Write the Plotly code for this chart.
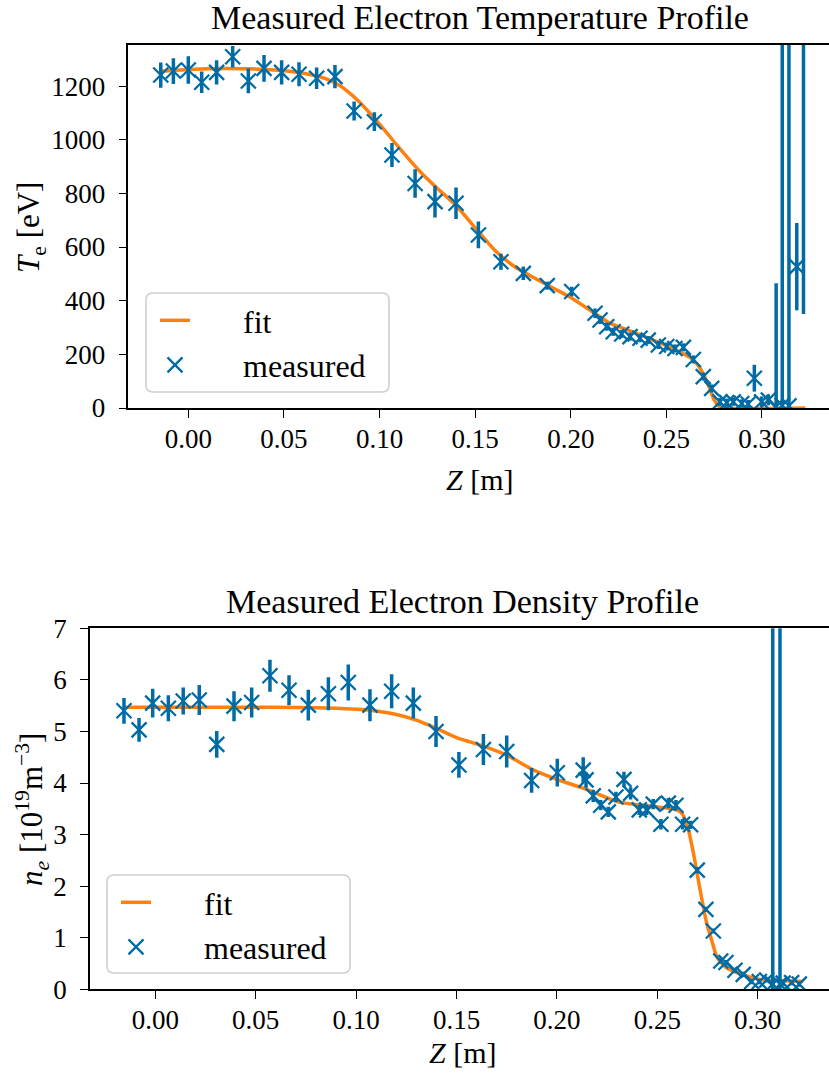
import plotly.graph_objects as go

# ---------------- data: electron temperature ----------------
z_te = [-0.0144, -0.0078, 0.0, 0.007, 0.0148, 0.0232, 0.0314, 0.0396, 0.0488, 0.0579,
        0.0671, 0.0767, 0.0867, 0.0973, 0.1065, 0.1186, 0.129, 0.140, 0.1517, 0.1635,
        0.1752, 0.1877, 0.2005, 0.2127, 0.2153, 0.2188, 0.2222, 0.2266, 0.231, 0.2362,
        0.2405, 0.2458, 0.2502, 0.2545, 0.2589, 0.2641, 0.2693, 0.2737, 0.278, 0.2816,
        0.285, 0.2894, 0.2928, 0.296, 0.2998, 0.3033, 0.3074, 0.3106, 0.3141, 0.3182, 0.3217]
te = [1241, 1256, 1260, 1214, 1251, 1309, 1219, 1266, 1251, 1244,
      1229, 1235, 1107, 1067, 943, 837, 769, 763, 645, 545,
      502, 456, 434, 353, 328, 303, 284, 276, 266, 260,
      253, 235, 229, 222, 226, 181, 117, 73, 23, 20,
      23, 17, 15, 111, 23, 30, 5, 10, 8, 527, 1600]
te_err = [47, 48, 51, 40, 45, 40, 46, 50, 45, 45,
          40, 43, 35, 35, 45, 53, 59, 59, 50, 30,
          25, 15, 18, 18, 15, 15, 15, 15, 15, 15,
          15, 15, 15, 15, 15, 15, 15, 15, 15, 15,
          15, 15, 15, 50, 20, 20, 460, 3000, 3000, 163, 1250]

z_te_fit = [-0.015, 0.0, 0.02, 0.04, 0.05, 0.06, 0.07, 0.075, 0.08, 0.085, 0.09, 0.10,
            0.11, 0.12, 0.13, 0.14, 0.15, 0.16, 0.17, 0.18, 0.19, 0.20, 0.21, 0.22,
            0.23, 0.24, 0.25, 0.258, 0.2625, 0.2665, 0.2695, 0.2725, 0.275, 0.2775,
            0.28, 0.3227]
te_fit = [1255, 1262, 1265, 1262, 1257, 1248, 1232, 1218, 1198, 1170, 1137, 1058,
          972, 890, 820, 755, 672, 590, 530, 488, 450, 412, 365, 318,
          290, 262, 232, 205, 188, 160, 125, 75, 30, 6,
          0, 0]

# ---------------- data: electron density ----------------
z_ne = [-0.0156, -0.0081, -0.0013, 0.0065, 0.0139, 0.0219, 0.0306, 0.0392, 0.048, 0.0571,
        0.0666, 0.0762, 0.0862, 0.0961, 0.1069, 0.1177, 0.1285, 0.1398, 0.1512, 0.1634,
        0.175, 0.1874, 0.2002, 0.2131, 0.2145, 0.2181, 0.2218, 0.2256, 0.2294, 0.2334,
        0.2367, 0.241, 0.2447, 0.248, 0.2518, 0.2555, 0.2593, 0.2626, 0.2666, 0.2699,
        0.2742, 0.2779, 0.2816, 0.2842, 0.2887, 0.2928, 0.297, 0.3008, 0.3045, 0.3075,
        0.3111, 0.3127, 0.3169, 0.3207]
ne = [5.40, 5.03, 5.55, 5.45, 5.59, 5.61, 4.75, 5.49, 5.56, 6.08,
      5.80, 5.51, 5.73, 5.95, 5.51, 5.78, 5.55, 5.00, 4.35, 4.65,
      4.61, 4.05, 4.20, 4.25, 4.06, 3.75, 3.57, 3.44, 3.73, 4.07,
      3.80, 3.48, 3.48, 3.59, 3.20, 3.61, 3.57, 3.20, 3.19, 2.31,
      1.55, 1.13, 0.55, 0.52, 0.37, 0.29, 0.15, 0.15, 0.18, 0.10,
      0.10, 0.12, 0.13, 0.10]
ne_err = [0.25, 0.23, 0.28, 0.25, 0.26, 0.29, 0.26, 0.29, 0.29, 0.31,
          0.29, 0.30, 0.32, 0.35, 0.31, 0.33, 0.30, 0.30, 0.25, 0.30,
          0.31, 0.24, 0.27, 0.25, 0.15, 0.12, 0.10, 0.10, 0.10, 0.15,
          0.12, 0.10, 0.10, 0.10, 0.10, 0.10, 0.10, 0.10, 0.08, 0.06,
          0.05, 0.05, 0.05, 0.05, 0.05, 0.05, 0.05, 0.05, 0.05, 20.0,
          20.0, 0.05, 0.05, 0.05]

z_ne_fit = [-0.015, 0.0, 0.02, 0.04, 0.06, 0.08, 0.09, 0.10, 0.107, 0.12, 0.13, 0.14,
            0.15, 0.163, 0.175, 0.1874, 0.20, 0.213, 0.2215, 0.2298, 0.2464, 0.2597,
            0.2625, 0.2655, 0.268, 0.2713, 0.2746, 0.2775, 0.2796, 0.2846, 0.2928,
            0.3011, 0.3095, 0.3227]
ne_fit = [5.47, 5.47, 5.47, 5.47, 5.47, 5.46, 5.45, 5.43, 5.41, 5.33, 5.22, 5.06,
          4.88, 4.72, 4.54, 4.27, 4.07, 3.90, 3.77, 3.64, 3.55, 3.48,
          3.40, 3.09, 2.64, 1.93, 1.28, 0.90, 0.63, 0.41, 0.28,
          0.19, 0.17, 0.15]

te_ticks = [0, 200, 400, 600, 800, 1000, 1200]
ne_ticks = [0, 1, 2, 3, 4, 5, 6, 7]
z_ticks = [0.0, 0.05, 0.10, 0.15, 0.20, 0.25, 0.30]

BLUE = "#006BA4"
ORANGE = "#FF800E"
FONT = "Liberation Serif"
W, H = 829, 1075
NB = "\u00a0" * 6

fig = go.Figure()

marker_style = dict(symbol="x-thin", size=15, color=BLUE, line=dict(color=BLUE, width=2.3))

fig.add_trace(go.Scatter(x=z_te_fit, y=te_fit, mode="lines", name=NB + "fit",
                         line=dict(color=ORANGE, width=3.5, shape="spline", smoothing=0.6),
                         xaxis="x", yaxis="y", legend="legend", legendgroup="a"))
fig.add_trace(go.Scatter(x=z_te, y=te, mode="markers", name=NB + "measured",
                         marker=marker_style,
                         error_y=dict(type="data", array=te_err, visible=True,
                                      color=BLUE, thickness=3.5, width=0),
                         xaxis="x", yaxis="y", legend="legend", legendgroup="b"))
fig.add_trace(go.Scatter(x=z_ne_fit, y=ne_fit, mode="lines", name=NB + "fit",
                         line=dict(color=ORANGE, width=3.5, shape="spline", smoothing=0.6),
                         xaxis="x2", yaxis="y2", legend="legend2", legendgroup="c"))
fig.add_trace(go.Scatter(x=z_ne, y=ne, mode="markers", name=NB + "measured",
                         marker=marker_style,
                         error_y=dict(type="data", array=ne_err, visible=True,
                                      color=BLUE, thickness=3.5, width=0),
                         xaxis="x2", yaxis="y2", legend="legend2", legendgroup="d"))


def px_x(p):
    return p / W


def px_y(p):
    return 1 - p / H


axis_common = dict(showgrid=False, zeroline=False, showline=True, linecolor="black",
                   linewidth=1.5, ticks="outside", ticklen=8, tickwidth=1.3,
                   tickcolor="black", automargin=False,
                   tickfont=dict(family=FONT, size=27, color="black"))

top_x0 = (128.3 - 188.3) / 1912.3
top_x1 = (829 - 188.3) / 1912.3
bot_x0 = (90 - 155.3) / 2008.0
bot_x1 = (829 - 155.3) / 2008.0

legend_common = dict(xanchor="left", yanchor="top", bgcolor="rgba(0,0,0,0)",
                     borderwidth=0, font=dict(family=FONT, size=32, color="black"),
                     tracegroupgap=0)

fig.update_layout(
    width=W, height=H, margin=dict(l=0, r=0, t=0, b=0, autoexpand=False),
    paper_bgcolor="white", plot_bgcolor="white",
    font=dict(family=FONT, color="black"),
    xaxis=dict(domain=[px_x(128.3), 1.0], range=[top_x0, top_x1], anchor="y",
               tickvals=z_ticks, ticktext=[f"{v:.2f}" for v in z_ticks], mirror=True,
               ticklabelstandoff=-2, **axis_common),
    yaxis=dict(domain=[px_y(408), px_y(45)], range=[0, 1353], anchor="x",
               tickvals=te_ticks, ticklabelstandoff=8, **axis_common),
    xaxis2=dict(domain=[px_x(90), 1.0], range=[bot_x0, bot_x1], anchor="y2",
                tickvals=z_ticks, ticktext=[f"{v:.2f}" for v in z_ticks], mirror=True,
                ticklabelstandoff=-2, **axis_common),
    yaxis2=dict(domain=[px_y(989.3), px_y(628.3)], range=[0, 7], anchor="x2",
                tickvals=ne_ticks, ticklabelstandoff=8, **axis_common),
    legend=dict(x=px_x(155), y=px_y(293), **legend_common),
    legend2=dict(x=px_x(116), y=px_y(875), **legend_common),
    showlegend=True,
)


def rounded_box(x0, y0, x1, y1, r=7):
    X0, X1 = px_x(x0), px_x(x1)
    Y0, Y1 = px_y(y0), px_y(y1)
    rx, ry = r / W, r / H
    return (f"M{X0 + rx},{Y0} L{X1 - rx},{Y0} Q{X1},{Y0} {X1},{Y0 - ry} "
            f"L{X1},{Y1 + ry} Q{X1},{Y1} {X1 - rx},{Y1} L{X0 + rx},{Y1} "
            f"Q{X0},{Y1} {X0},{Y1 + ry} L{X0},{Y0 - ry} Q{X0},{Y0} {X0 + rx},{Y0} Z")


shapes = []
for box in [(146, 293, 389, 392), (107, 875, 350, 973)]:
    shapes.append(dict(type="path", path=rounded_box(*box), xref="paper", yref="paper",
                       line=dict(color="#d0d0d0", width=1.6),
                       fillcolor="rgba(255,255,255,0.8)", layer="above"))
fig.update_layout(shapes=shapes)

ann = [
    dict(text="Measured Electron Temperature Profile", x=px_x(480), y=px_y(18),
         font=dict(size=34)),
    dict(text="Measured Electron Density Profile", x=px_x(463), y=px_y(601),
         font=dict(size=34)),
    dict(text="<i>Z</i> [m]", x=px_x(480), y=px_y(479), font=dict(size=30)),
    dict(text="<i>Z</i> [m]", x=px_x(463), y=px_y(1052), font=dict(size=30)),
    dict(text="<i>T</i><sub>e</sub> [eV]", x=px_x(31), y=px_y(228), textangle=-90,
         font=dict(size=31)),
    dict(text="<i>n<sub>e</sub></i> [10<sup>19</sup>m<sup>\u22123</sup>]", x=px_x(32),
         y=px_y(810), textangle=-90, font=dict(size=31)),
]
for a in ann:
    a.update(xref="paper", yref="paper", showarrow=False, xanchor="center",
             yanchor="middle")
    a["font"].update(family=FONT, color="black")
fig.update_layout(annotations=ann)

fig.write_html("out.html")
